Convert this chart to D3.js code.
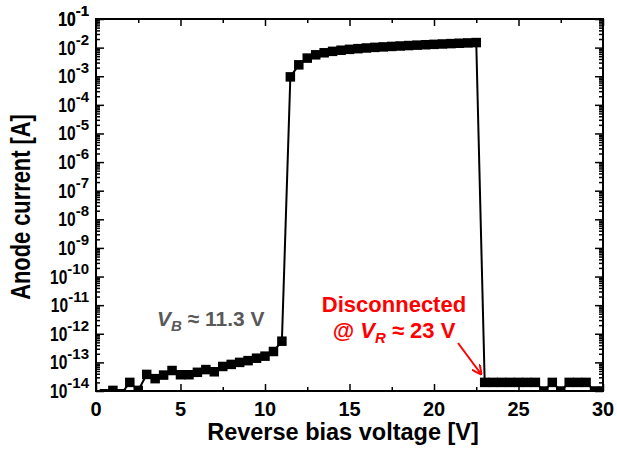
<html>
  <head>
    <meta charset="utf-8">
    <script src="https://cdn.jsdelivr.net/npm/d3@7"></script>
    <style>
      body { margin: 0px; background: #fff; }
      text { font-family: "Liberation Sans", Arial, sans-serif; font-weight: bold; }
      .axis .domain { display: none; }
      .axis .tick line { stroke: #000; stroke-width: 1.5px; }
      .axis text { display: none; }
    </style>
  </head>
  <body>
    <svg width="617" height="458"></svg>
    <script>
      var voltage = [0.5, 1.0, 1.5, 2.0, 2.5, 3.0, 3.5, 4.0, 4.5, 5.0, 5.5, 6.0, 6.5, 7.0, 7.5,
        8.0, 8.5, 9.0, 9.5, 10.0, 10.5, 11.0, 11.5, 12.0, 12.5, 13.0, 13.5, 14.0, 14.5, 15.0,
        15.5, 16.0, 16.5, 17.0, 17.5, 18.0, 18.5, 19.0, 19.5, 20.0, 20.5, 21.0, 21.5, 22.0, 22.5,
        23.0, 23.5, 24.0, 24.5, 25.0, 25.5, 26.0, 26.5, 27.0, 27.5, 28.0, 28.5, 29.0, 29.5, 30.0];
      var current = [8e-15, 1.05e-14, 8e-15, 2e-14, 1.05e-14, 3.8e-14, 2.7e-14, 3.6e-14, 5.2e-14, 3.7e-14,
        3.7e-14, 4.5e-14, 5.6e-14, 4.7e-14, 7.2e-14, 8.5e-14, 1.0e-13, 1.15e-13, 1.4e-13, 1.65e-13,
        2.4e-13, 5.5e-13, 9.5e-4, 2.5e-3, 4.3e-3, 5.6e-3, 6.6e-3, 7.4e-3, 8.1e-3, 8.7e-3,
        9.2e-3, 9.7e-3, 1.02e-2, 1.06e-2, 1.1e-2, 1.14e-2, 1.18e-2, 1.22e-2, 1.26e-2, 1.3e-2,
        1.34e-2, 1.38e-2, 1.42e-2, 1.46e-2, 1.5e-2,
        2e-14, 2e-14, 2e-14, 2e-14, 2e-14, 2e-14, 2e-14, 1e-14, 2e-14, 1e-14,
        2e-14, 2e-14, 2e-14, 1e-14, 1e-14];
      var xTicks = [0, 5, 10, 15, 20, 25, 30];
      var xMinor = [2.5, 7.5, 12.5, 17.5, 22.5, 27.5];
      var yExponents = d3.range(-14, 0);

      var svg = d3.select('svg');
      var pL = 96, pR = 603, pT = 19, pB = 391;

      var x = d3.scaleLinear().domain([0, 30]).range([pL, pR]);
      var y = d3.scaleLog().domain([1e-14, 1e-1]).range([pB, pT]);

      var yMajor = yExponents.map(e => Math.pow(10, e));
      var yMinor = [];
      yExponents.slice(0, -1).forEach(e => {
        for (var k = 2; k < 10; k++) yMinor.push(k * Math.pow(10, e));
      });

      // inward ticks on all four sides
      function addAxis(axis, tx, ty) {
        svg.append('g').attr('class', 'axis')
          .attr('transform', `translate(${tx},${ty})`)
          .call(axis);
      }
      addAxis(d3.axisBottom(x).tickValues(xTicks).tickSize(-7), 0, pB);
      addAxis(d3.axisBottom(x).tickValues(xMinor).tickSize(-4), 0, pB);
      addAxis(d3.axisTop(x).tickValues(xTicks).tickSize(-7), 0, pT);
      addAxis(d3.axisTop(x).tickValues(xMinor).tickSize(-4), 0, pT);
      addAxis(d3.axisLeft(y).tickValues(yMajor).tickSize(-8), pL, 0);
      addAxis(d3.axisLeft(y).tickValues(yMinor).tickSize(-4), pL, 0);
      addAxis(d3.axisRight(y).tickValues(yMajor).tickSize(-8), pR, 0);
      addAxis(d3.axisRight(y).tickValues(yMinor).tickSize(-4), pR, 0);

      svg.append('rect')
        .attr('x', pL).attr('y', pT)
        .attr('width', pR - pL).attr('height', pB - pT)
        .attr('fill', 'none').attr('stroke', '#000').attr('stroke-width', 2);

      // tick labels
      svg.selectAll('.xlab').data(xTicks).enter().append('text')
        .attr('x', d => x(d)).attr('y', 416)
        .attr('text-anchor', 'middle').attr('font-size', 20)
        .text(d => d);

      // y labels: "10" is drawn narrow like the original, exponent placed after it
      yExponents.concat([-1]).forEach(e => {
        var yy = y(Math.pow(10, e)) + 7;
        var sup = svg.append('text')
          .attr('x', 89).attr('y', yy - 10)
          .attr('text-anchor', 'end').attr('font-size', 15)
          .text(e);
        var w = sup.node().getComputedTextLength();
        svg.append('text')
          .attr('transform', `translate(${89 - w},${yy}) scale(0.74,1)`)
          .attr('text-anchor', 'end').attr('font-size', 21)
          .text('10');
      });

      // axis titles
      svg.append('text')
        .attr('transform', 'translate(30,207) rotate(-90) scale(0.78,1)')
        .attr('text-anchor', 'middle').attr('font-size', 28)
        .text('Anode current [A]');
      svg.append('text')
        .attr('x', 343).attr('y', 440)
        .attr('text-anchor', 'middle').attr('font-size', 23.5)
        .text('Reverse bias voltage [V]');

      // data
      var data = voltage.map((v, i) => ({ v: v, i: current[i] }));
      svg.append('clipPath').attr('id', 'clip').append('rect')
        .attr('x', pL).attr('y', pT).attr('width', pR - pL).attr('height', pB - pT);
      var plot = svg.append('g').attr('clip-path', 'url(#clip)');
      var line = d3.line().x(d => x(d.v)).y(d => y(d.i));
      plot.append('path').datum(data)
        .attr('d', line).attr('fill', 'none').attr('stroke', '#000').attr('stroke-width', 2);
      var s = 9.5;
      plot.selectAll('rect.pt').data(data).enter().append('rect')
        .attr('class', 'pt')
        .attr('x', d => x(d.v) - s / 2).attr('y', d => y(d.i) - s / 2)
        .attr('width', s).attr('height', s).attr('fill', '#000');

      // annotations
      var vb = svg.append('text').attr('x', 157).attr('y', 326)
        .attr('font-size', 21).attr('fill', '#595959');
      vb.append('tspan').attr('font-style', 'italic').text('V');
      vb.append('tspan').attr('font-style', 'italic').attr('font-size', 15).attr('dy', 5).text('B');
      vb.append('tspan').attr('dy', -5).text(' \u2248 11.3 V');

      svg.append('text').attr('x', 394).attr('y', 312)
        .attr('text-anchor', 'middle').attr('font-size', 22).attr('fill', '#ff0000')
        .text('Disconnected');
      var vr = svg.append('text').attr('x', 394).attr('y', 338)
        .attr('text-anchor', 'middle').attr('font-size', 22).attr('fill', '#ff0000');
      vr.append('tspan').text('@ ');
      vr.append('tspan').attr('font-style', 'italic').text('V');
      vr.append('tspan').attr('font-style', 'italic').attr('font-size', 15).attr('dy', 5).text('R');
      vr.append('tspan').attr('dy', -5).text(' \u2248 23 V');

      svg.append('defs').append('marker')
        .attr('id', 'arrow').attr('viewBox', '0 0 10 10')
        .attr('refX', 9).attr('refY', 5)
        .attr('markerWidth', 5).attr('markerHeight', 5)
        .attr('orient', 'auto')
        .append('path').attr('d', 'M0,0 L10,5 L0,10')
        .attr('fill', 'none').attr('stroke', '#ff0000').attr('stroke-width', 2);
      svg.append('line')
        .attr('x1', 458).attr('y1', 343).attr('x2', 481).attr('y2', 374)
        .attr('stroke', '#ff0000').attr('stroke-width', 2)
        .attr('marker-end', 'url(#arrow)');
    </script>
  </body>
</html>
